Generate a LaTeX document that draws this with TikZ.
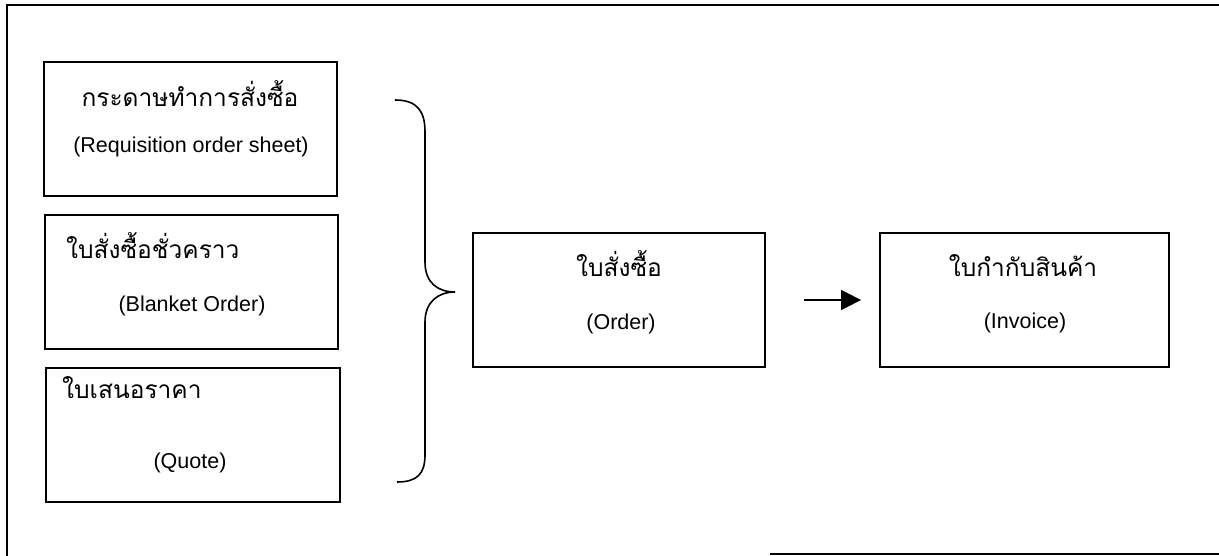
\documentclass[tikz,border=0pt]{standalone}
\usepackage{fontspec}
\setmainfont{Liberation Sans}
\newfontfamily\thaifont[Script=Thai]{Loma}
\usetikzlibrary{arrows.meta}
\begin{document}
\begin{tikzpicture}[x=1pt,y=-1pt,
  docbox/.style={draw,line width=1.8pt,minimum width=#1,minimum height=134pt,inner sep=0pt},
  thtext/.style={font=\thaifont\fontsize{24.5}{28}\selectfont,inner sep=0pt},
  entext/.style={font=\fontsize{21.5}{25}\selectfont,inner sep=0pt},
  frame/.style={line width=2pt},
  bracestyle/.style={line width=1.6pt}]
\useasboundingbox (0,0) rectangle (1219,556);
% frame
\coordinate (ftl) at (7,5);
\coordinate (ftr) at (1219,5);
\coordinate (fbl) at (7,556);
\coordinate (fbs) at (770,554);
\coordinate (fbr) at (1219,554);
\draw[frame] (ftr) -- (ftl) -- (fbl);
\draw[frame] (fbs) -- (fbr);
% boxes
\node[docbox=293pt] (req) at (190.5,129) {};
\node[docbox=293pt] (bla) at (191.5,282) {};
\node[docbox=294pt] (quo) at (193,435) {};
\node[docbox=292pt] (ord) at (619,300) {};
\node[docbox=289pt] (inv) at (1024.5,300) {};
% texts
\node[thtext,anchor=base] (reqth) at (190,107) {กระดาษทำการสั่งซื้อ};
\node[entext,anchor=base] (reqen) at (191,153) {(Requisition order sheet)};
\node[thtext,anchor=base west] (blath) at (66,259) {ใบสั่งซื้อชั่วคราว};
\node[entext,anchor=base] (blaen) at (192,312) {(Blanket Order)};
\node[thtext,anchor=base west] (quoth) at (62,398) {ใบเสนอราคา};
\node[entext,anchor=base] (quoen) at (190,468) {(Quote)};
\node[thtext,anchor=base] (ordth) at (619,277) {ใบสั่งซื้อ};
\node[entext,anchor=base] (orden) at (621,330) {(Order)};
\node[thtext,anchor=base] (invth) at (1023,277) {ใบกำกับสินค้า};
\node[entext,anchor=base] (inven) at (1025,328) {(Invoice)};
% brace
\coordinate (btop) at (395,100);
\coordinate (btip) at (455,292);
\coordinate (bbot) at (397,482);
\draw[bracestyle] (btop) .. controls (418,100) and (425,112) .. (425,132)
  -- (425,262) .. controls (425,283) and (438,292) .. (btip)
  .. controls (438,292) and (425,302) .. (425,322)
  -- (425,455) .. controls (425,474) and (417,482) .. (bbot);
% arrow
\draw[line width=1.6pt,-{Triangle[length=20pt,width=20pt]},shorten <=38pt,shorten >=18pt] (ord.east) -- (inv.west);
\end{tikzpicture}
\end{document}
